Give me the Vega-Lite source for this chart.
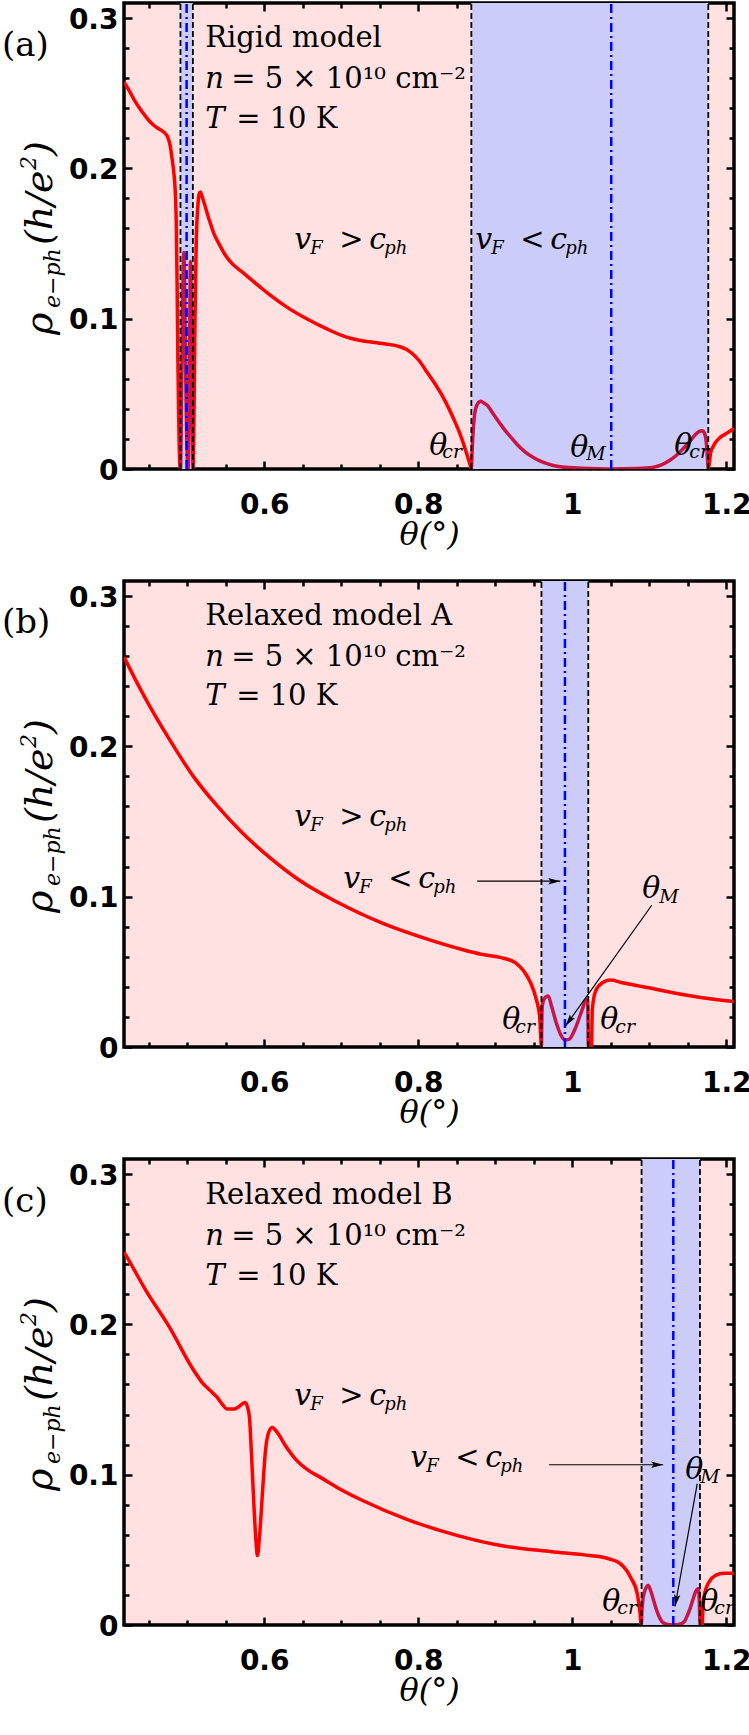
{
  "$schema": "https://vega.github.io/schema/vega-lite/v6.json",
  "background": "white",
  "padding": {"left": 0, "top": 0, "right": 0, "bottom": 0},
  "spacing": 26,
  "datasets": {
    "d": [
      {"p":"a","k":"band","t":0.4913,"t2":0.5074},
      {"p":"a","k":"band","t":0.869,"t2":1.1766},
      {"p":"a","k":"edge","t":0.4913},
      {"p":"a","k":"edge","t":0.5074},
      {"p":"a","k":"edge","t":0.869},
      {"p":"a","k":"edge","t":1.1766},
      {"p":"a","k":"mid","t":0.4993},
      {"p":"a","k":"mid","t":1.0506},
      {"p":"a","k":"up","t":0.2597,"r":0.2748,"txt":"(a)","fs":34},
      {"p":"a","k":"up","t":0.5234,"r":0.2808,"txt":"Rigid model","fs":29},
      {"p":"a","k":"it","t":0.5234,"r":0.2535,"txt":"n","fs":29},
      {"p":"a","k":"up","t":0.5571,"r":0.2535,"txt":"= 5 × 10¹⁰ cm⁻²","fs":29},
      {"p":"a","k":"it","t":0.5234,"r":0.2267,"txt":"T","fs":29},
      {"p":"a","k":"up","t":0.5636,"r":0.2267,"txt":"= 10 K","fs":29},
      {"p":"a","k":"it","t":0.639,"r":0.1464,"txt":"v","fs":30},
      {"p":"a","k":"it","t":0.6597,"r":0.143,"txt":"F","fs":18},
      {"p":"a","k":"up","t":0.6974,"r":0.1464,"txt":">","fs":29},
      {"p":"a","k":"it","t":0.7364,"r":0.1464,"txt":"c","fs":30},
      {"p":"a","k":"it","t":0.7558,"r":0.143,"txt":"ph","fs":18},
      {"p":"a","k":"it","t":0.874,"r":0.1464,"txt":"v","fs":30},
      {"p":"a","k":"it","t":0.8948,"r":0.143,"txt":"F","fs":18},
      {"p":"a","k":"up","t":0.9325,"r":0.1464,"txt":"<","fs":29},
      {"p":"a","k":"it","t":0.9714,"r":0.1464,"txt":"c","fs":30},
      {"p":"a","k":"it","t":0.9909,"r":0.143,"txt":"ph","fs":18},
      {"p":"a","k":"it","t":0.8143,"r":0.0093,"txt":"θ","fs":30},
      {"p":"a","k":"it","t":0.8312,"r":0.0073,"txt":"cr","fs":19},
      {"p":"a","k":"it","t":0.9974,"r":0.008,"txt":"θ","fs":30},
      {"p":"a","k":"it","t":1.0182,"r":0.006,"txt":"M","fs":19},
      {"p":"a","k":"it","t":1.1325,"r":0.0093,"txt":"θ","fs":30},
      {"p":"a","k":"it","t":1.1519,"r":0.0073,"txt":"cr","fs":19},
      {"p":"a","k":"rot","t":0.3247,"r":0.0892,"txt":"ρ","fs":38},
      {"p":"a","k":"rot","t":0.3351,"r":0.1071,"txt":"e−ph","fs":22},
      {"p":"a","k":"rot","t":0.3247,"r":0.149,"txt":"(h/e","fs":38},
      {"p":"a","k":"rot","t":0.3039,"r":0.1989,"txt":"2","fs":22},
      {"p":"a","k":"rot","t":0.3247,"r":0.2083,"txt":")","fs":38},

      {"p":"a","k":"c","t":0.418,"r":0.2575},
      {"p":"a","k":"c","t":0.426,"r":0.2505},
      {"p":"a","k":"c","t":0.433,"r":0.244},
      {"p":"a","k":"c","t":0.441,"r":0.238},
      {"p":"a","k":"c","t":0.45,"r":0.232},
      {"p":"a","k":"c","t":0.457,"r":0.2285},
      {"p":"a","k":"c","t":0.463,"r":0.2264},
      {"p":"a","k":"c","t":0.468,"r":0.2248},
      {"p":"a","k":"c","t":0.472,"r":0.223},
      {"p":"a","k":"c","t":0.475,"r":0.2205},
      {"p":"a","k":"c","t":0.478,"r":0.215},
      {"p":"a","k":"c","t":0.48,"r":0.208},
      {"p":"a","k":"c","t":0.4825,"r":0.198},
      {"p":"a","k":"c","t":0.4845,"r":0.185},
      {"p":"a","k":"c","t":0.486,"r":0.16},
      {"p":"a","k":"c","t":0.487,"r":0.12},
      {"p":"a","k":"c","t":0.488,"r":0.071},
      {"p":"a","k":"c","t":0.489,"r":0.035},
      {"p":"a","k":"c","t":0.4903,"r":0.005},
      {"p":"a","k":"c","t":0.4913,"r":0.0},
      {"p":"a","k":"c","t":0.493,"r":0.06},
      {"p":"a","k":"c","t":0.4945,"r":0.12},
      {"p":"a","k":"c","t":0.4957,"r":0.144},
      {"p":"a","k":"c","t":0.497,"r":0.11},
      {"p":"a","k":"c","t":0.4985,"r":0.05},
      {"p":"a","k":"c","t":0.5003,"r":0.005},
      {"p":"a","k":"c","t":0.5013,"r":0.0},
      {"p":"a","k":"c","t":0.5025,"r":0.04},
      {"p":"a","k":"c","t":0.5035,"r":0.1},
      {"p":"a","k":"c","t":0.5043,"r":0.138},
      {"p":"a","k":"c","t":0.5055,"r":0.1},
      {"p":"a","k":"c","t":0.5068,"r":0.03},
      {"p":"a","k":"c","t":0.5076,"r":0.0},
      {"p":"a","k":"c","t":0.5087,"r":0.027},
      {"p":"a","k":"c","t":0.51,"r":0.093},
      {"p":"a","k":"c","t":0.5117,"r":0.149},
      {"p":"a","k":"c","t":0.5139,"r":0.175},
      {"p":"a","k":"c","t":0.5156,"r":0.183},
      {"p":"a","k":"c","t":0.5173,"r":0.1843},
      {"p":"a","k":"c","t":0.5195,"r":0.181},
      {"p":"a","k":"c","t":0.5217,"r":0.1776},
      {"p":"a","k":"c","t":0.5282,"r":0.1665},
      {"p":"a","k":"c","t":0.5347,"r":0.1566},
      {"p":"a","k":"c","t":0.5412,"r":0.1499},
      {"p":"a","k":"c","t":0.5497,"r":0.1422},
      {"p":"a","k":"c","t":0.5584,"r":0.1366},
      {"p":"a","k":"c","t":0.5714,"r":0.1311},
      {"p":"a","k":"c","t":0.5844,"r":0.1255},
      {"p":"a","k":"c","t":0.5974,"r":0.1199},
      {"p":"a","k":"c","t":0.607,"r":0.116},
      {"p":"a","k":"c","t":0.63,"r":0.1075},
      {"p":"a","k":"c","t":0.657,"r":0.0994},
      {"p":"a","k":"c","t":0.68,"r":0.0935},
      {"p":"a","k":"c","t":0.706,"r":0.0879},
      {"p":"a","k":"c","t":0.725,"r":0.0855},
      {"p":"a","k":"c","t":0.7435,"r":0.0841},
      {"p":"a","k":"c","t":0.76,"r":0.083},
      {"p":"a","k":"c","t":0.7745,"r":0.0816},
      {"p":"a","k":"c","t":0.785,"r":0.0795},
      {"p":"a","k":"c","t":0.793,"r":0.0765},
      {"p":"a","k":"c","t":0.802,"r":0.0715},
      {"p":"a","k":"c","t":0.812,"r":0.064},
      {"p":"a","k":"c","t":0.822,"r":0.0565},
      {"p":"a","k":"c","t":0.831,"r":0.049},
      {"p":"a","k":"c","t":0.84,"r":0.04},
      {"p":"a","k":"c","t":0.848,"r":0.031},
      {"p":"a","k":"c","t":0.855,"r":0.0224},
      {"p":"a","k":"c","t":0.8636,"r":0.0091},
      {"p":"a","k":"c","t":0.8675,"r":0.0025},
      {"p":"a","k":"c","t":0.869,"r":0.0},
      {"p":"a","k":"c","t":0.87,"r":0.012},
      {"p":"a","k":"c","t":0.871,"r":0.0224},
      {"p":"a","k":"c","t":0.8725,"r":0.033},
      {"p":"a","k":"c","t":0.8745,"r":0.04},
      {"p":"a","k":"c","t":0.878,"r":0.044},
      {"p":"a","k":"c","t":0.881,"r":0.045},
      {"p":"a","k":"c","t":0.885,"r":0.044},
      {"p":"a","k":"c","t":0.8896,"r":0.0424},
      {"p":"a","k":"c","t":0.897,"r":0.037},
      {"p":"a","k":"c","t":0.9048,"r":0.0313},
      {"p":"a","k":"c","t":0.913,"r":0.0255},
      {"p":"a","k":"c","t":0.922,"r":0.0202},
      {"p":"a","k":"c","t":0.93,"r":0.0155},
      {"p":"a","k":"c","t":0.939,"r":0.0113},
      {"p":"a","k":"c","t":0.95,"r":0.0075},
      {"p":"a","k":"c","t":0.961,"r":0.0047},
      {"p":"a","k":"c","t":0.974,"r":0.0025},
      {"p":"a","k":"c","t":0.987,"r":0.0013},
      {"p":"a","k":"c","t":1.013,"r":0.0005},
      {"p":"a","k":"c","t":1.0506,"r":0.0},
      {"p":"a","k":"c","t":1.082,"r":0.0003},
      {"p":"a","k":"c","t":1.104,"r":0.001},
      {"p":"a","k":"c","t":1.115,"r":0.0025},
      {"p":"a","k":"c","t":1.1256,"r":0.0055},
      {"p":"a","k":"c","t":1.135,"r":0.009},
      {"p":"a","k":"c","t":1.143,"r":0.013},
      {"p":"a","k":"c","t":1.152,"r":0.018},
      {"p":"a","k":"c","t":1.16,"r":0.023},
      {"p":"a","k":"c","t":1.165,"r":0.025},
      {"p":"a","k":"c","t":1.169,"r":0.0255},
      {"p":"a","k":"c","t":1.1715,"r":0.024},
      {"p":"a","k":"c","t":1.1735,"r":0.02},
      {"p":"a","k":"c","t":1.175,"r":0.012},
      {"p":"a","k":"c","t":1.1766,"r":0.0},
      {"p":"a","k":"c","t":1.1785,"r":0.006},
      {"p":"a","k":"c","t":1.1797,"r":0.011},
      {"p":"a","k":"c","t":1.183,"r":0.015},
      {"p":"a","k":"c","t":1.186,"r":0.0177},
      {"p":"a","k":"c","t":1.192,"r":0.021},
      {"p":"a","k":"c","t":1.199,"r":0.0233},
      {"p":"a","k":"c","t":1.205,"r":0.0253},
      {"p":"a","k":"c","t":1.21,"r":0.0271},

      {"p":"b","k":"band","t":0.96,"t2":1.0208},
      {"p":"b","k":"edge","t":0.96},
      {"p":"b","k":"edge","t":1.0208},
      {"p":"b","k":"mid","t":0.9905},
      {"p":"b","k":"up","t":0.2597,"r":0.2751,"txt":"(b)","fs":34},
      {"p":"b","k":"up","t":0.5234,"r":0.2804,"txt":"Relaxed model A","fs":29},
      {"p":"b","k":"it","t":0.5234,"r":0.2532,"txt":"n","fs":29},
      {"p":"b","k":"up","t":0.5571,"r":0.2532,"txt":"= 5 × 10¹⁰ cm⁻²","fs":29},
      {"p":"b","k":"it","t":0.5234,"r":0.2272,"txt":"T","fs":29},
      {"p":"b","k":"up","t":0.5636,"r":0.2272,"txt":"= 10 K","fs":29},
      {"p":"b","k":"it","t":0.639,"r":0.1468,"txt":"v","fs":30},
      {"p":"b","k":"it","t":0.6597,"r":0.1435,"txt":"F","fs":18},
      {"p":"b","k":"up","t":0.6974,"r":0.1468,"txt":">","fs":29},
      {"p":"b","k":"it","t":0.7364,"r":0.1468,"txt":"c","fs":30},
      {"p":"b","k":"it","t":0.7558,"r":0.1435,"txt":"ph","fs":18},
      {"p":"b","k":"it","t":0.7026,"r":0.1056,"txt":"v","fs":30},
      {"p":"b","k":"it","t":0.7234,"r":0.1023,"txt":"F","fs":18},
      {"p":"b","k":"up","t":0.761,"r":0.1056,"txt":"<","fs":29},
      {"p":"b","k":"it","t":0.8,"r":0.1056,"txt":"c","fs":30},
      {"p":"b","k":"it","t":0.8195,"r":0.1023,"txt":"ph","fs":18},
      {"p":"b","k":"it","t":0.9091,"r":0.012,"txt":"θ","fs":30},
      {"p":"b","k":"it","t":0.926,"r":0.0093,"txt":"cr","fs":19},
      {"p":"b","k":"it","t":1.0364,"r":0.012,"txt":"θ","fs":30},
      {"p":"b","k":"it","t":1.0558,"r":0.0093,"txt":"cr","fs":19},
      {"p":"b","k":"it","t":1.0909,"r":0.099,"txt":"θ","fs":30},
      {"p":"b","k":"it","t":1.113,"r":0.0957,"txt":"M","fs":19},
      {"p":"b","k":"arr","t":0.8766,"r":0.1103,"t2":0.9844,"r2":0.1103},
      {"p":"b","k":"arr","t":1.1032,"r":0.0943,"t2":0.9913,"r2":0.014},
      {"p":"b","k":"head","t":0.9844,"r":0.1103,"ang":90},
      {"p":"b","k":"head","t":0.9913,"r":0.014,"ang":215.5},
      {"p":"b","k":"rot","t":0.3247,"r":0.0892,"txt":"ρ","fs":38},
      {"p":"b","k":"rot","t":0.3351,"r":0.1071,"txt":"e−ph","fs":22},
      {"p":"b","k":"rot","t":0.3247,"r":0.149,"txt":"(h/e","fs":38},
      {"p":"b","k":"rot","t":0.3039,"r":0.1989,"txt":"2","fs":22},
      {"p":"b","k":"rot","t":0.3247,"r":0.2083,"txt":")","fs":38},

      {"p":"b","k":"c","t":0.418,"r":0.2595},
      {"p":"b","k":"c","t":0.4197,"r":0.2577},
      {"p":"b","k":"c","t":0.4459,"r":0.2318},
      {"p":"b","k":"c","t":0.4768,"r":0.2048},
      {"p":"b","k":"c","t":0.5078,"r":0.1802},
      {"p":"b","k":"c","t":0.5388,"r":0.1605},
      {"p":"b","k":"c","t":0.5699,"r":0.1433},
      {"p":"b","k":"c","t":0.607,"r":0.1261},
      {"p":"b","k":"c","t":0.6443,"r":0.1114},
      {"p":"b","k":"c","t":0.6939,"r":0.0966},
      {"p":"b","k":"c","t":0.7558,"r":0.0819},
      {"p":"b","k":"c","t":0.8179,"r":0.0708},
      {"p":"b","k":"c","t":0.857,"r":0.0649},
      {"p":"b","k":"c","t":0.883,"r":0.0616},
      {"p":"b","k":"c","t":0.909,"r":0.0593},
      {"p":"b","k":"c","t":0.9264,"r":0.056},
      {"p":"b","k":"c","t":0.937,"r":0.0505},
      {"p":"b","k":"c","t":0.946,"r":0.0427},
      {"p":"b","k":"c","t":0.9533,"r":0.0317},
      {"p":"b","k":"c","t":0.9576,"r":0.0206},
      {"p":"b","k":"c","t":0.9594,"r":0.004},
      {"p":"b","k":"c","t":0.96,"r":0.0},
      {"p":"b","k":"c","t":0.9604,"r":0.015},
      {"p":"b","k":"c","t":0.961,"r":0.0272},
      {"p":"b","k":"c","t":0.9645,"r":0.0328},
      {"p":"b","k":"c","t":0.9688,"r":0.0339},
      {"p":"b","k":"c","t":0.9731,"r":0.0272},
      {"p":"b","k":"c","t":0.9792,"r":0.0161},
      {"p":"b","k":"c","t":0.9848,"r":0.0084},
      {"p":"b","k":"c","t":0.9905,"r":0.0047},
      {"p":"b","k":"c","t":0.9957,"r":0.0051},
      {"p":"b","k":"c","t":1.0043,"r":0.0128},
      {"p":"b","k":"c","t":1.013,"r":0.025},
      {"p":"b","k":"c","t":1.0182,"r":0.0317},
      {"p":"b","k":"c","t":1.02,"r":0.031},
      {"p":"b","k":"c","t":1.0205,"r":0.015},
      {"p":"b","k":"c","t":1.0208,"r":0.0},
      {"p":"b","k":"c","t":1.025,"r":0.0},
      {"p":"b","k":"c","t":1.0255,"r":0.012},
      {"p":"b","k":"c","t":1.026,"r":0.025},
      {"p":"b","k":"c","t":1.0303,"r":0.0372},
      {"p":"b","k":"c","t":1.039,"r":0.0427},
      {"p":"b","k":"c","t":1.0498,"r":0.0445},
      {"p":"b","k":"c","t":1.065,"r":0.0427},
      {"p":"b","k":"c","t":1.0996,"r":0.0394},
      {"p":"b","k":"c","t":1.134,"r":0.0357},
      {"p":"b","k":"c","t":1.1688,"r":0.0328},
      {"p":"b","k":"c","t":1.21,"r":0.0303},

      {"p":"c","k":"band","t":1.09,"t2":1.1658},
      {"p":"c","k":"edge","t":1.09},
      {"p":"c","k":"edge","t":1.1658},
      {"p":"c","k":"mid","t":1.1312},
      {"p":"c","k":"up","t":0.2597,"r":0.2747,"txt":"(c)","fs":34},
      {"p":"c","k":"up","t":0.5234,"r":0.2801,"txt":"Relaxed model B","fs":29},
      {"p":"c","k":"it","t":0.5234,"r":0.2528,"txt":"n","fs":29},
      {"p":"c","k":"up","t":0.5571,"r":0.2528,"txt":"= 5 × 10¹⁰ cm⁻²","fs":29},
      {"p":"c","k":"it","t":0.5234,"r":0.2262,"txt":"T","fs":29},
      {"p":"c","k":"up","t":0.5636,"r":0.2262,"txt":"= 10 K","fs":29},
      {"p":"c","k":"it","t":0.639,"r":0.1465,"txt":"v","fs":30},
      {"p":"c","k":"it","t":0.6597,"r":0.1432,"txt":"F","fs":18},
      {"p":"c","k":"up","t":0.6974,"r":0.1465,"txt":">","fs":29},
      {"p":"c","k":"it","t":0.7364,"r":0.1465,"txt":"c","fs":30},
      {"p":"c","k":"it","t":0.7558,"r":0.1432,"txt":"ph","fs":18},
      {"p":"c","k":"it","t":0.7896,"r":0.1053,"txt":"v","fs":30},
      {"p":"c","k":"it","t":0.8104,"r":0.102,"txt":"F","fs":18},
      {"p":"c","k":"up","t":0.8481,"r":0.1053,"txt":"<","fs":29},
      {"p":"c","k":"it","t":0.887,"r":0.1053,"txt":"c","fs":30},
      {"p":"c","k":"it","t":0.9065,"r":0.102,"txt":"ph","fs":18},
      {"p":"c","k":"it","t":1.039,"r":0.0096,"txt":"θ","fs":30},
      {"p":"c","k":"it","t":1.0584,"r":0.0076,"txt":"cr","fs":19},
      {"p":"c","k":"it","t":1.1662,"r":0.0096,"txt":"θ","fs":30},
      {"p":"c","k":"it","t":1.1844,"r":0.0076,"txt":"cr","fs":19},
      {"p":"c","k":"it","t":1.1468,"r":0.0973,"txt":"θ","fs":30},
      {"p":"c","k":"it","t":1.1662,"r":0.0947,"txt":"M","fs":19},
      {"p":"c","k":"arr","t":0.97,"r":0.1066,"t2":1.118,"r2":0.1066},
      {"p":"c","k":"arr","t":1.1623,"r":0.094,"t2":1.1334,"r2":0.0123},
      {"p":"c","k":"head","t":1.118,"r":0.1066,"ang":90},
      {"p":"c","k":"head","t":1.1334,"r":0.0123,"ang":190.3},
      {"p":"c","k":"rot","t":0.3247,"r":0.0892,"txt":"ρ","fs":38},
      {"p":"c","k":"rot","t":0.3351,"r":0.1071,"txt":"e−ph","fs":22},
      {"p":"c","k":"rot","t":0.3247,"r":0.149,"txt":"(h/e","fs":38},
      {"p":"c","k":"rot","t":0.3039,"r":0.1989,"txt":"2","fs":22},
      {"p":"c","k":"rot","t":0.3247,"r":0.2083,"txt":")","fs":38},

      {"p":"c","k":"c","t":0.418,"r":0.248},
      {"p":"c","k":"c","t":0.4197,"r":0.2466},
      {"p":"c","k":"c","t":0.4459,"r":0.223},
      {"p":"c","k":"c","t":0.4768,"r":0.1983},
      {"p":"c","k":"c","t":0.5078,"r":0.17},
      {"p":"c","k":"c","t":0.5195,"r":0.1613},
      {"p":"c","k":"c","t":0.5303,"r":0.1558},
      {"p":"c","k":"c","t":0.539,"r":0.1514},
      {"p":"c","k":"c","t":0.5455,"r":0.147},
      {"p":"c","k":"c","t":0.552,"r":0.1437},
      {"p":"c","k":"c","t":0.5606,"r":0.1437},
      {"p":"c","k":"c","t":0.5671,"r":0.1452},
      {"p":"c","k":"c","t":0.5749,"r":0.148},
      {"p":"c","k":"c","t":0.5779,"r":0.1458},
      {"p":"c","k":"c","t":0.5809,"r":0.1381},
      {"p":"c","k":"c","t":0.5835,"r":0.1138},
      {"p":"c","k":"c","t":0.5866,"r":0.0805},
      {"p":"c","k":"c","t":0.5896,"r":0.054},
      {"p":"c","k":"c","t":0.5913,"r":0.0462},
      {"p":"c","k":"c","t":0.5939,"r":0.0583},
      {"p":"c","k":"c","t":0.5974,"r":0.0849},
      {"p":"c","k":"c","t":0.6017,"r":0.116},
      {"p":"c","k":"c","t":0.6052,"r":0.127},
      {"p":"c","k":"c","t":0.6104,"r":0.1314},
      {"p":"c","k":"c","t":0.6169,"r":0.1281},
      {"p":"c","k":"c","t":0.6277,"r":0.1193},
      {"p":"c","k":"c","t":0.6407,"r":0.1104},
      {"p":"c","k":"c","t":0.658,"r":0.1027},
      {"p":"c","k":"c","t":0.6731,"r":0.0982},
      {"p":"c","k":"c","t":0.7,"r":0.09},
      {"p":"c","k":"c","t":0.725,"r":0.0835},
      {"p":"c","k":"c","t":0.7869,"r":0.07},
      {"p":"c","k":"c","t":0.849,"r":0.0598},
      {"p":"c","k":"c","t":0.911,"r":0.0525},
      {"p":"c","k":"c","t":0.973,"r":0.0488},
      {"p":"c","k":"c","t":1.0217,"r":0.0463},
      {"p":"c","k":"c","t":1.0477,"r":0.044},
      {"p":"c","k":"c","t":1.0628,"r":0.0407},
      {"p":"c","k":"c","t":1.0757,"r":0.0318},
      {"p":"c","k":"c","t":1.0844,"r":0.0208},
      {"p":"c","k":"c","t":1.088,"r":0.008},
      {"p":"c","k":"c","t":1.0896,"r":0.0},
      {"p":"c","k":"c","t":1.0905,"r":0.01},
      {"p":"c","k":"c","t":1.0922,"r":0.0186},
      {"p":"c","k":"c","t":1.0952,"r":0.0241},
      {"p":"c","k":"c","t":1.0987,"r":0.0263},
      {"p":"c","k":"c","t":1.1017,"r":0.023},
      {"p":"c","k":"c","t":1.105,"r":0.0175},
      {"p":"c","k":"c","t":1.1082,"r":0.0119},
      {"p":"c","k":"c","t":1.112,"r":0.0065},
      {"p":"c","k":"c","t":1.1169,"r":0.002},
      {"p":"c","k":"c","t":1.124,"r":0.0003},
      {"p":"c","k":"c","t":1.1312,"r":0.0},
      {"p":"c","k":"c","t":1.138,"r":0.0003},
      {"p":"c","k":"c","t":1.145,"r":0.002},
      {"p":"c","k":"c","t":1.15,"r":0.007},
      {"p":"c","k":"c","t":1.1536,"r":0.0119},
      {"p":"c","k":"c","t":1.157,"r":0.0175},
      {"p":"c","k":"c","t":1.1601,"r":0.0221},
      {"p":"c","k":"c","t":1.1636,"r":0.0241},
      {"p":"c","k":"c","t":1.165,"r":0.015},
      {"p":"c","k":"c","t":1.1658,"r":0.0},
      {"p":"c","k":"c","t":1.1688,"r":0.0},
      {"p":"c","k":"c","t":1.1695,"r":0.01},
      {"p":"c","k":"c","t":1.171,"r":0.0186},
      {"p":"c","k":"c","t":1.1775,"r":0.0286},
      {"p":"c","k":"c","t":1.186,"r":0.033},
      {"p":"c","k":"c","t":1.197,"r":0.0345},
      {"p":"c","k":"c","t":1.21,"r":0.0345}
    ]
  },
  "data": {"name": "d"},
  "vconcat": [
    {
      "width": 610, "height": 466,
      "transform": [{"filter": "datum.p == 'a'"}],
      "encoding": {"x": {"field": "t", "type": "quantitative", "scale": {"domain": [0.418, 1.21], "nice": false, "zero": false}, "axis": null}},
      "layer": [
        {"transform": [{"filter": "datum.k == 'band'"}], "mark": {"type": "rect", "fill": "white"},
          "encoding": {"x2": {"field": "t2"},
            "y": {"datum": 0, "type": "quantitative", "scale": {"domain": [0, 0.31], "nice": false, "zero": false}, "axis": null},
            "y2": {"datum": 0.31}}},
        {"transform": [{"filter": "datum.k == 'c'"}], "mark": {"type": "line", "color": "#ff0000", "strokeWidth": 3.5, "interpolate": "monotone", "clip": true},
          "encoding": {"x": {"field": "t", "type": "quantitative", "scale": {"domain": [0.418, 1.21], "nice": false, "zero": false},
            "axis": {"orient": "top", "values": [0.6, 0.8, 1, 1.2], "offset": -8, "ticks": true, "tickSize": 8, "tickColor": "black", "tickOpacity": 1, "tickWidth": 2.5, "domain": false, "labels": false, "title": null}},
            "y": {"field": "r", "type": "quantitative", "scale": {"domain": [0, 0.31], "nice": false, "zero": false},
            "axis": {"orient": "left", "values": [0, 0.1, 0.2, 0.3], "offset": -8, "ticks": true, "tickSize": 8, "tickColor": "black", "tickOpacity": 1, "tickWidth": 2.5, "domain": false, "format": "~g", "labelFont": "DejaVu Sans", "labelFontWeight": "bold", "labelFontSize": 28, "labelColor": "black", "labelPadding": 6, "labelFlush": false, "labelOverlap": false, "labelOffset": 2, "title": null}}}},
        {"transform": [{"filter": "datum.k == 'band'"}], "mark": {"type": "rect", "fill": "#4848ed", "opacity": 0.278},
          "encoding": {"x": {"field": "t", "type": "quantitative", "scale": {"domain": [0.418, 1.21], "nice": false, "zero": false},
            "axis": {"orient": "bottom", "values": [0.6, 0.8, 1, 1.2], "offset": -8, "ticks": true, "tickSize": 8, "tickColor": "black", "tickOpacity": 1, "tickWidth": 2.5, "domain": false, "format": "~g", "labelFont": "DejaVu Sans", "labelFontWeight": "bold", "labelFontSize": 28, "labelColor": "black", "labelPadding": 22, "labelFlush": false, "labelOverlap": false, "title": "θ(°)", "titleFont": "DejaVu Serif", "titleFontStyle": "italic", "titleFontWeight": "normal", "titleFontSize": 32, "titleColor": "black", "titlePadding": 0}},
            "x2": {"field": "t2"},
            "y": {"datum": 0, "type": "quantitative", "scale": {"domain": [0, 0.31], "nice": false, "zero": false}, "axis": null},
            "y2": {"datum": 0.31}}},
        {"transform": [{"filter": "datum.k == 'edge'"}], "mark": {"type": "rule", "color": "black", "strokeWidth": 1.8, "strokeDash": [6, 3]},
          "encoding": {"x": {"field": "t", "type": "quantitative", "scale": {"domain": [0.418, 1.21], "nice": false, "zero": false},
            "axis": {"orient": "top", "values": [0.45, 0.5, 0.55, 0.65, 0.7, 0.75, 0.85, 0.9, 0.95, 1.05, 1.1, 1.15], "offset": -5, "ticks": true, "tickSize": 5, "tickColor": "black", "tickOpacity": 1, "tickWidth": 2.5, "labels": false, "domain": false, "title": null}},
            "y": {"datum": 0, "type": "quantitative", "scale": {"domain": [0, 0.31], "nice": false, "zero": false}, "axis": null},
            "y2": {"datum": 0.31}}},
        {"transform": [{"filter": "datum.k == 'mid'"}], "mark": {"type": "rule", "color": "#0000ff", "strokeWidth": 2.5, "strokeDash": [9, 4, 2, 4]},
          "encoding": {"x": {"field": "t", "type": "quantitative", "scale": {"domain": [0.418, 1.21], "nice": false, "zero": false},
            "axis": {"orient": "bottom", "values": [0.45, 0.5, 0.55, 0.65, 0.7, 0.75, 0.85, 0.9, 0.95, 1.05, 1.1, 1.15], "offset": -5, "ticks": true, "tickSize": 5, "tickColor": "black", "tickOpacity": 1, "tickWidth": 2.5, "labels": false, "domain": false, "title": null}},
            "y": {"datum": 0, "type": "quantitative", "scale": {"domain": [0, 0.31], "nice": false, "zero": false}, "axis": null},
            "y2": {"datum": 0.31}}},
        {"transform": [{"filter": "datum.k == 'arr'"}], "mark": {"type": "rule", "color": "black", "strokeWidth": 1.2},
          "encoding": {"x2": {"field": "t2"},
            "y": {"field": "r", "type": "quantitative", "scale": {"domain": [0, 0.31], "nice": false, "zero": false},
              "axis": {"orient": "right", "values": [0, 0.1, 0.2, 0.3], "offset": -8, "ticks": true, "tickSize": 8, "tickColor": "black", "tickOpacity": 1, "tickWidth": 2.5, "domain": false, "labels": false, "title": null}},
            "y2": {"field": "r2"}}},
        {"transform": [{"filter": "datum.k == 'head'"}], "mark": {"type": "point", "shape": "M0,0L-0.45,1.7L0,1.35L0.45,1.7Z", "filled": true, "color": "black", "opacity": 1, "size": 200, "strokeWidth": 0},
          "encoding": {"y": {"field": "r", "type": "quantitative", "scale": {"domain": [0, 0.31], "nice": false, "zero": false},
              "axis": {"orient": "right", "values": [0.02, 0.04, 0.06, 0.08, 0.12, 0.14, 0.16, 0.18, 0.22, 0.24, 0.26, 0.28], "offset": -5, "ticks": true, "tickSize": 5, "tickColor": "black", "tickOpacity": 1, "tickWidth": 2.5, "labels": false, "domain": false, "title": null}},
            "angle": {"field": "ang", "type": "quantitative", "scale": null}}},
        {"transform": [{"filter": "datum.k == 'up'"}], "mark": {"type": "text", "font": "DejaVu Serif", "align": "left", "baseline": "alphabetic", "color": "black"},
          "encoding": {"y": {"field": "r", "type": "quantitative", "scale": {"domain": [0, 0.31], "nice": false, "zero": false},
              "axis": {"orient": "left", "values": [0.02, 0.04, 0.06, 0.08, 0.12, 0.14, 0.16, 0.18, 0.22, 0.24, 0.26, 0.28], "offset": -5, "ticks": true, "tickSize": 5, "tickColor": "black", "tickOpacity": 1, "tickWidth": 2.5, "labels": false, "domain": false, "title": null}},
            "text": {"field": "txt"}, "size": {"field": "fs", "type": "quantitative", "scale": null}}},
        {"transform": [{"filter": "datum.k == 'it'"}], "mark": {"type": "text", "font": "DejaVu Serif", "fontStyle": "italic", "align": "left", "baseline": "alphabetic", "color": "black"},
          "encoding": {"y": {"field": "r", "type": "quantitative", "scale": {"domain": [0, 0.31], "nice": false, "zero": false}, "axis": null},
            "text": {"field": "txt"}, "size": {"field": "fs", "type": "quantitative", "scale": null}}},
        {"transform": [{"filter": "datum.k == 'rot'"}], "mark": {"type": "text", "font": "DejaVu Serif", "fontStyle": "italic", "align": "left", "baseline": "alphabetic", "color": "black", "angle": 270},
          "encoding": {"y": {"field": "r", "type": "quantitative", "scale": {"domain": [0, 0.31], "nice": false, "zero": false}, "axis": null},
            "text": {"field": "txt"}, "size": {"field": "fs", "type": "quantitative", "scale": null}}}
      ],
      "resolve": {"axis": {"x": "independent", "y": "independent"}}
    },
    {
      "width": 610, "height": 466,
      "transform": [{"filter": "datum.p == 'b'"}],
      "encoding": {"x": {"field": "t", "type": "quantitative", "scale": {"domain": [0.418, 1.21], "nice": false, "zero": false}, "axis": null}},
      "layer": [
        {"transform": [{"filter": "datum.k == 'band'"}], "mark": {"type": "rect", "fill": "white"},
          "encoding": {"x2": {"field": "t2"},
            "y": {"datum": 0, "type": "quantitative", "scale": {"domain": [0, 0.31], "nice": false, "zero": false}, "axis": null},
            "y2": {"datum": 0.31}}},
        {"transform": [{"filter": "datum.k == 'c'"}], "mark": {"type": "line", "color": "#ff0000", "strokeWidth": 3.5, "interpolate": "monotone", "clip": true},
          "encoding": {"x": {"field": "t", "type": "quantitative", "scale": {"domain": [0.418, 1.21], "nice": false, "zero": false},
            "axis": {"orient": "top", "values": [0.6, 0.8, 1, 1.2], "offset": -8, "ticks": true, "tickSize": 8, "tickColor": "black", "tickOpacity": 1, "tickWidth": 2.5, "domain": false, "labels": false, "title": null}},
            "y": {"field": "r", "type": "quantitative", "scale": {"domain": [0, 0.31], "nice": false, "zero": false},
            "axis": {"orient": "left", "values": [0, 0.1, 0.2, 0.3], "offset": -8, "ticks": true, "tickSize": 8, "tickColor": "black", "tickOpacity": 1, "tickWidth": 2.5, "domain": false, "format": "~g", "labelFont": "DejaVu Sans", "labelFontWeight": "bold", "labelFontSize": 28, "labelColor": "black", "labelPadding": 6, "labelFlush": false, "labelOverlap": false, "labelOffset": 2, "title": null}}}},
        {"transform": [{"filter": "datum.k == 'band'"}], "mark": {"type": "rect", "fill": "#4848ed", "opacity": 0.278},
          "encoding": {"x": {"field": "t", "type": "quantitative", "scale": {"domain": [0.418, 1.21], "nice": false, "zero": false},
            "axis": {"orient": "bottom", "values": [0.6, 0.8, 1, 1.2], "offset": -8, "ticks": true, "tickSize": 8, "tickColor": "black", "tickOpacity": 1, "tickWidth": 2.5, "domain": false, "format": "~g", "labelFont": "DejaVu Sans", "labelFontWeight": "bold", "labelFontSize": 28, "labelColor": "black", "labelPadding": 22, "labelFlush": false, "labelOverlap": false, "title": "θ(°)", "titleFont": "DejaVu Serif", "titleFontStyle": "italic", "titleFontWeight": "normal", "titleFontSize": 32, "titleColor": "black", "titlePadding": 0}},
            "x2": {"field": "t2"},
            "y": {"datum": 0, "type": "quantitative", "scale": {"domain": [0, 0.31], "nice": false, "zero": false}, "axis": null},
            "y2": {"datum": 0.31}}},
        {"transform": [{"filter": "datum.k == 'edge'"}], "mark": {"type": "rule", "color": "black", "strokeWidth": 1.8, "strokeDash": [6, 3]},
          "encoding": {"x": {"field": "t", "type": "quantitative", "scale": {"domain": [0.418, 1.21], "nice": false, "zero": false},
            "axis": {"orient": "top", "values": [0.45, 0.5, 0.55, 0.65, 0.7, 0.75, 0.85, 0.9, 0.95, 1.05, 1.1, 1.15], "offset": -5, "ticks": true, "tickSize": 5, "tickColor": "black", "tickOpacity": 1, "tickWidth": 2.5, "labels": false, "domain": false, "title": null}},
            "y": {"datum": 0, "type": "quantitative", "scale": {"domain": [0, 0.31], "nice": false, "zero": false}, "axis": null},
            "y2": {"datum": 0.31}}},
        {"transform": [{"filter": "datum.k == 'mid'"}], "mark": {"type": "rule", "color": "#0000ff", "strokeWidth": 2.5, "strokeDash": [9, 4, 2, 4]},
          "encoding": {"x": {"field": "t", "type": "quantitative", "scale": {"domain": [0.418, 1.21], "nice": false, "zero": false},
            "axis": {"orient": "bottom", "values": [0.45, 0.5, 0.55, 0.65, 0.7, 0.75, 0.85, 0.9, 0.95, 1.05, 1.1, 1.15], "offset": -5, "ticks": true, "tickSize": 5, "tickColor": "black", "tickOpacity": 1, "tickWidth": 2.5, "labels": false, "domain": false, "title": null}},
            "y": {"datum": 0, "type": "quantitative", "scale": {"domain": [0, 0.31], "nice": false, "zero": false}, "axis": null},
            "y2": {"datum": 0.31}}},
        {"transform": [{"filter": "datum.k == 'arr'"}], "mark": {"type": "rule", "color": "black", "strokeWidth": 1.2},
          "encoding": {"x2": {"field": "t2"},
            "y": {"field": "r", "type": "quantitative", "scale": {"domain": [0, 0.31], "nice": false, "zero": false},
              "axis": {"orient": "right", "values": [0, 0.1, 0.2, 0.3], "offset": -8, "ticks": true, "tickSize": 8, "tickColor": "black", "tickOpacity": 1, "tickWidth": 2.5, "domain": false, "labels": false, "title": null}},
            "y2": {"field": "r2"}}},
        {"transform": [{"filter": "datum.k == 'head'"}], "mark": {"type": "point", "shape": "M0,0L-0.45,1.7L0,1.35L0.45,1.7Z", "filled": true, "color": "black", "opacity": 1, "size": 200, "strokeWidth": 0},
          "encoding": {"y": {"field": "r", "type": "quantitative", "scale": {"domain": [0, 0.31], "nice": false, "zero": false},
              "axis": {"orient": "right", "values": [0.02, 0.04, 0.06, 0.08, 0.12, 0.14, 0.16, 0.18, 0.22, 0.24, 0.26, 0.28], "offset": -5, "ticks": true, "tickSize": 5, "tickColor": "black", "tickOpacity": 1, "tickWidth": 2.5, "labels": false, "domain": false, "title": null}},
            "angle": {"field": "ang", "type": "quantitative", "scale": null}}},
        {"transform": [{"filter": "datum.k == 'up'"}], "mark": {"type": "text", "font": "DejaVu Serif", "align": "left", "baseline": "alphabetic", "color": "black"},
          "encoding": {"y": {"field": "r", "type": "quantitative", "scale": {"domain": [0, 0.31], "nice": false, "zero": false},
              "axis": {"orient": "left", "values": [0.02, 0.04, 0.06, 0.08, 0.12, 0.14, 0.16, 0.18, 0.22, 0.24, 0.26, 0.28], "offset": -5, "ticks": true, "tickSize": 5, "tickColor": "black", "tickOpacity": 1, "tickWidth": 2.5, "labels": false, "domain": false, "title": null}},
            "text": {"field": "txt"}, "size": {"field": "fs", "type": "quantitative", "scale": null}}},
        {"transform": [{"filter": "datum.k == 'it'"}], "mark": {"type": "text", "font": "DejaVu Serif", "fontStyle": "italic", "align": "left", "baseline": "alphabetic", "color": "black"},
          "encoding": {"y": {"field": "r", "type": "quantitative", "scale": {"domain": [0, 0.31], "nice": false, "zero": false}, "axis": null},
            "text": {"field": "txt"}, "size": {"field": "fs", "type": "quantitative", "scale": null}}},
        {"transform": [{"filter": "datum.k == 'rot'"}], "mark": {"type": "text", "font": "DejaVu Serif", "fontStyle": "italic", "align": "left", "baseline": "alphabetic", "color": "black", "angle": 270},
          "encoding": {"y": {"field": "r", "type": "quantitative", "scale": {"domain": [0, 0.31], "nice": false, "zero": false}, "axis": null},
            "text": {"field": "txt"}, "size": {"field": "fs", "type": "quantitative", "scale": null}}}
      ],
      "resolve": {"axis": {"x": "independent", "y": "independent"}}
    },
    {
      "width": 610, "height": 466,
      "transform": [{"filter": "datum.p == 'c'"}],
      "encoding": {"x": {"field": "t", "type": "quantitative", "scale": {"domain": [0.418, 1.21], "nice": false, "zero": false}, "axis": null}},
      "layer": [
        {"transform": [{"filter": "datum.k == 'band'"}], "mark": {"type": "rect", "fill": "white"},
          "encoding": {"x2": {"field": "t2"},
            "y": {"datum": 0, "type": "quantitative", "scale": {"domain": [0, 0.31], "nice": false, "zero": false}, "axis": null},
            "y2": {"datum": 0.31}}},
        {"transform": [{"filter": "datum.k == 'c'"}], "mark": {"type": "line", "color": "#ff0000", "strokeWidth": 3.5, "interpolate": "monotone", "clip": true},
          "encoding": {"x": {"field": "t", "type": "quantitative", "scale": {"domain": [0.418, 1.21], "nice": false, "zero": false},
            "axis": {"orient": "top", "values": [0.6, 0.8, 1, 1.2], "offset": -8, "ticks": true, "tickSize": 8, "tickColor": "black", "tickOpacity": 1, "tickWidth": 2.5, "domain": false, "labels": false, "title": null}},
            "y": {"field": "r", "type": "quantitative", "scale": {"domain": [0, 0.31], "nice": false, "zero": false},
            "axis": {"orient": "left", "values": [0, 0.1, 0.2, 0.3], "offset": -8, "ticks": true, "tickSize": 8, "tickColor": "black", "tickOpacity": 1, "tickWidth": 2.5, "domain": false, "format": "~g", "labelFont": "DejaVu Sans", "labelFontWeight": "bold", "labelFontSize": 28, "labelColor": "black", "labelPadding": 6, "labelFlush": false, "labelOverlap": false, "labelOffset": 2, "title": null}}}},
        {"transform": [{"filter": "datum.k == 'band'"}], "mark": {"type": "rect", "fill": "#4848ed", "opacity": 0.278},
          "encoding": {"x": {"field": "t", "type": "quantitative", "scale": {"domain": [0.418, 1.21], "nice": false, "zero": false},
            "axis": {"orient": "bottom", "values": [0.6, 0.8, 1, 1.2], "offset": -8, "ticks": true, "tickSize": 8, "tickColor": "black", "tickOpacity": 1, "tickWidth": 2.5, "domain": false, "format": "~g", "labelFont": "DejaVu Sans", "labelFontWeight": "bold", "labelFontSize": 28, "labelColor": "black", "labelPadding": 22, "labelFlush": false, "labelOverlap": false, "title": "θ(°)", "titleFont": "DejaVu Serif", "titleFontStyle": "italic", "titleFontWeight": "normal", "titleFontSize": 32, "titleColor": "black", "titlePadding": 0}},
            "x2": {"field": "t2"},
            "y": {"datum": 0, "type": "quantitative", "scale": {"domain": [0, 0.31], "nice": false, "zero": false}, "axis": null},
            "y2": {"datum": 0.31}}},
        {"transform": [{"filter": "datum.k == 'edge'"}], "mark": {"type": "rule", "color": "black", "strokeWidth": 1.8, "strokeDash": [6, 3]},
          "encoding": {"x": {"field": "t", "type": "quantitative", "scale": {"domain": [0.418, 1.21], "nice": false, "zero": false},
            "axis": {"orient": "top", "values": [0.45, 0.5, 0.55, 0.65, 0.7, 0.75, 0.85, 0.9, 0.95, 1.05, 1.1, 1.15], "offset": -5, "ticks": true, "tickSize": 5, "tickColor": "black", "tickOpacity": 1, "tickWidth": 2.5, "labels": false, "domain": false, "title": null}},
            "y": {"datum": 0, "type": "quantitative", "scale": {"domain": [0, 0.31], "nice": false, "zero": false}, "axis": null},
            "y2": {"datum": 0.31}}},
        {"transform": [{"filter": "datum.k == 'mid'"}], "mark": {"type": "rule", "color": "#0000ff", "strokeWidth": 2.5, "strokeDash": [9, 4, 2, 4]},
          "encoding": {"x": {"field": "t", "type": "quantitative", "scale": {"domain": [0.418, 1.21], "nice": false, "zero": false},
            "axis": {"orient": "bottom", "values": [0.45, 0.5, 0.55, 0.65, 0.7, 0.75, 0.85, 0.9, 0.95, 1.05, 1.1, 1.15], "offset": -5, "ticks": true, "tickSize": 5, "tickColor": "black", "tickOpacity": 1, "tickWidth": 2.5, "labels": false, "domain": false, "title": null}},
            "y": {"datum": 0, "type": "quantitative", "scale": {"domain": [0, 0.31], "nice": false, "zero": false}, "axis": null},
            "y2": {"datum": 0.31}}},
        {"transform": [{"filter": "datum.k == 'arr'"}], "mark": {"type": "rule", "color": "black", "strokeWidth": 1.2},
          "encoding": {"x2": {"field": "t2"},
            "y": {"field": "r", "type": "quantitative", "scale": {"domain": [0, 0.31], "nice": false, "zero": false},
              "axis": {"orient": "right", "values": [0, 0.1, 0.2, 0.3], "offset": -8, "ticks": true, "tickSize": 8, "tickColor": "black", "tickOpacity": 1, "tickWidth": 2.5, "domain": false, "labels": false, "title": null}},
            "y2": {"field": "r2"}}},
        {"transform": [{"filter": "datum.k == 'head'"}], "mark": {"type": "point", "shape": "M0,0L-0.45,1.7L0,1.35L0.45,1.7Z", "filled": true, "color": "black", "opacity": 1, "size": 200, "strokeWidth": 0},
          "encoding": {"y": {"field": "r", "type": "quantitative", "scale": {"domain": [0, 0.31], "nice": false, "zero": false},
              "axis": {"orient": "right", "values": [0.02, 0.04, 0.06, 0.08, 0.12, 0.14, 0.16, 0.18, 0.22, 0.24, 0.26, 0.28], "offset": -5, "ticks": true, "tickSize": 5, "tickColor": "black", "tickOpacity": 1, "tickWidth": 2.5, "labels": false, "domain": false, "title": null}},
            "angle": {"field": "ang", "type": "quantitative", "scale": null}}},
        {"transform": [{"filter": "datum.k == 'up'"}], "mark": {"type": "text", "font": "DejaVu Serif", "align": "left", "baseline": "alphabetic", "color": "black"},
          "encoding": {"y": {"field": "r", "type": "quantitative", "scale": {"domain": [0, 0.31], "nice": false, "zero": false},
              "axis": {"orient": "left", "values": [0.02, 0.04, 0.06, 0.08, 0.12, 0.14, 0.16, 0.18, 0.22, 0.24, 0.26, 0.28], "offset": -5, "ticks": true, "tickSize": 5, "tickColor": "black", "tickOpacity": 1, "tickWidth": 2.5, "labels": false, "domain": false, "title": null}},
            "text": {"field": "txt"}, "size": {"field": "fs", "type": "quantitative", "scale": null}}},
        {"transform": [{"filter": "datum.k == 'it'"}], "mark": {"type": "text", "font": "DejaVu Serif", "fontStyle": "italic", "align": "left", "baseline": "alphabetic", "color": "black"},
          "encoding": {"y": {"field": "r", "type": "quantitative", "scale": {"domain": [0, 0.31], "nice": false, "zero": false}, "axis": null},
            "text": {"field": "txt"}, "size": {"field": "fs", "type": "quantitative", "scale": null}}},
        {"transform": [{"filter": "datum.k == 'rot'"}], "mark": {"type": "text", "font": "DejaVu Serif", "fontStyle": "italic", "align": "left", "baseline": "alphabetic", "color": "black", "angle": 270},
          "encoding": {"y": {"field": "r", "type": "quantitative", "scale": {"domain": [0, 0.31], "nice": false, "zero": false}, "axis": null},
            "text": {"field": "txt"}, "size": {"field": "fs", "type": "quantitative", "scale": null}}}
      ],
      "resolve": {"axis": {"x": "independent", "y": "independent"}}
    }
  ],
  "config": {
    "view": {"stroke": "black", "strokeWidth": 3.5, "fill": "#ffe1e1"},
    "axis": {"tickColor": "black", "tickWidth": 2.5, "grid": false}
  }
}
